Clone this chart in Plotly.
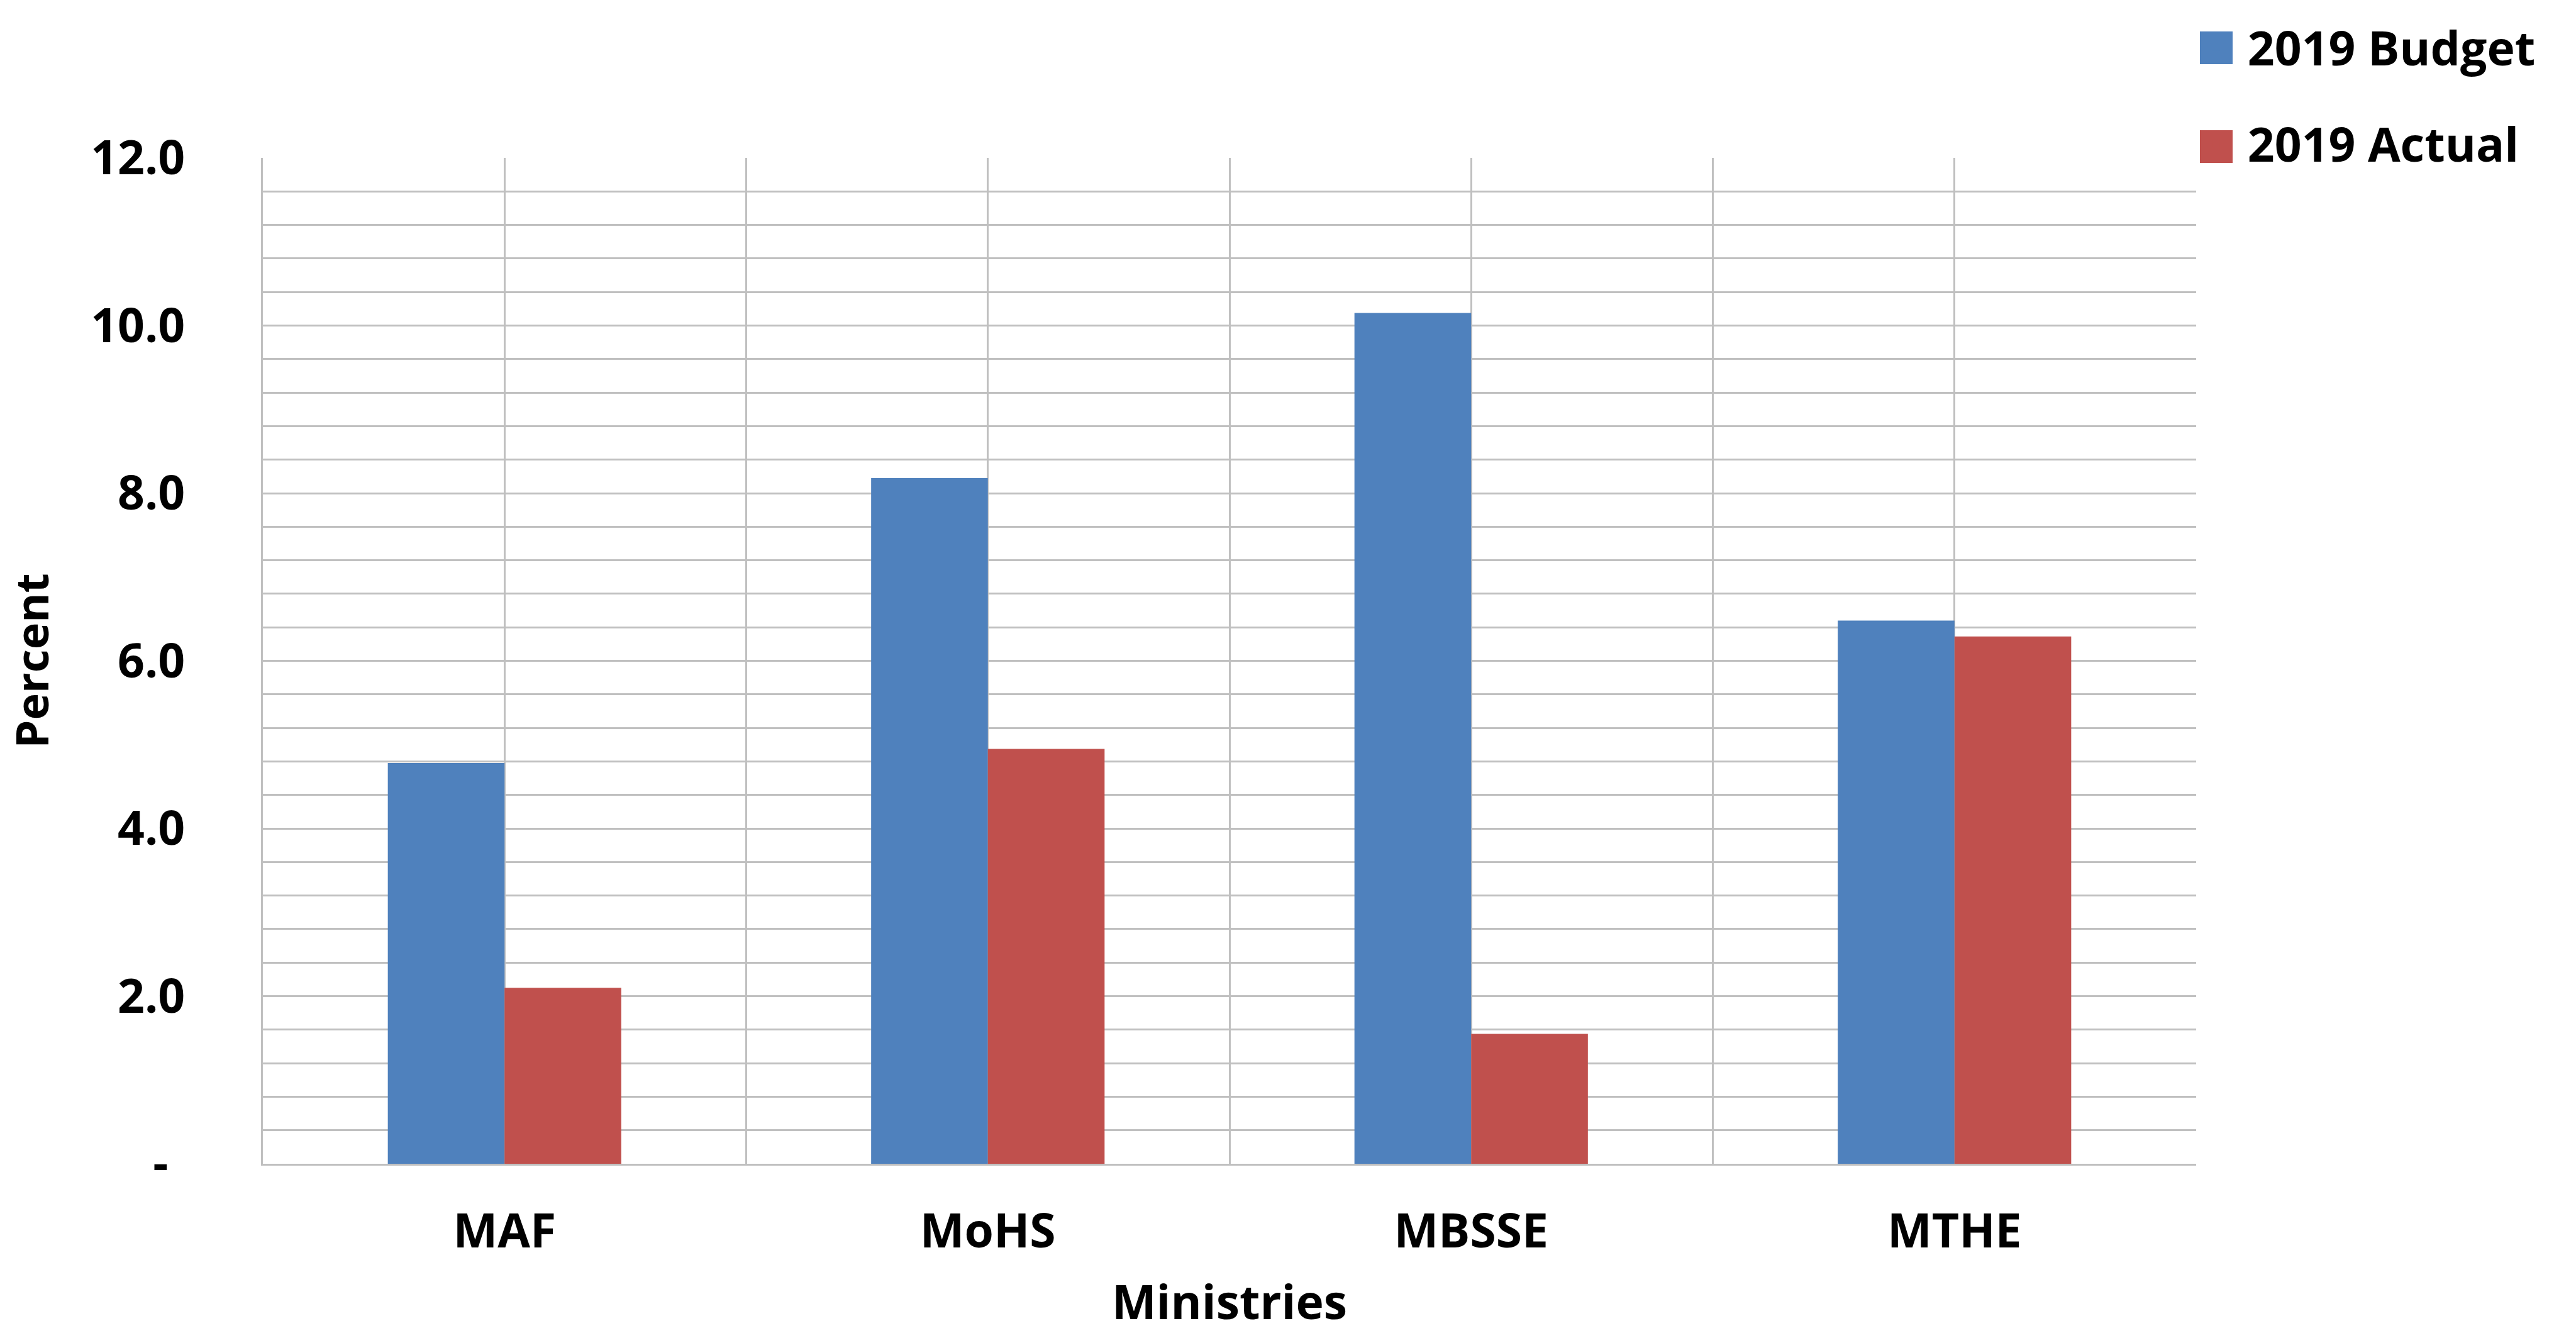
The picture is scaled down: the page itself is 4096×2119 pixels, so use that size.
import plotly.graph_objects as go

categories = ["MAF", "MoHS", "MBSSE", "MTHE"]
budget_2019 = [4.78, 8.18, 10.15, 6.48]
actual_2019 = [2.10, 4.95, 1.55, 6.29]
y_tick_values = [0, 2, 4, 6, 8, 10, 12]
y_tick_labels = ["-\u00a0\u200a", "2.0", "4.0", "6.0", "8.0", "10.0", "12.0"]
series_names = ["2019 Budget", "2019 Actual"]
series_colors = ["#4F81BD", "#C0504D"]

x_pos = list(range(len(categories)))

FONT = "Open Sans"
GRID = "#c0c0c0"
TXT = dict(family=FONT, size=75, color="black", weight="bold")

fig = go.Figure()
fig.add_trace(go.Bar(x=x_pos, y=budget_2019, name=series_names[0],
                     marker=dict(color=series_colors[0], line=dict(width=0)),
                     legendgroup="a"))
fig.add_trace(go.Bar(x=x_pos, y=actual_2019, name=series_names[1],
                     marker=dict(color=series_colors[1], line=dict(width=0)),
                     legendgroup="b"))

# enlarged legend keys (same colour, sit under the legend's own small keys)
key_rows = [(149, 201), (-8, 44)]
for (y0, y1), col in zip(key_rows, series_colors):
    fig.add_shape(type="rect", xref="paper", yref="paper",
                  xsizemode="pixel", ysizemode="pixel",
                  xanchor=1, yanchor=1, x0=6, x1=58, y0=y0, y1=y1,
                  fillcolor=col, line=dict(width=0), layer="above")

fig.update_layout(
    width=4096, height=2119,
    margin=dict(l=418, r=604, t=251, b=267),
    paper_bgcolor="white", plot_bgcolor="white",
    barmode="group", bargap=0.517, bargroupgap=0,
    font=TXT,
    showlegend=True,
    legend=dict(x=0.9941, xanchor="left", y=1.145, yanchor="top",
                itemwidth=90,
                font=TXT, tracegroupgap=53, bgcolor="rgba(0,0,0,0)"),
    xaxis=dict(
        range=[-0.5, len(categories) - 0.5],
        tickmode="array", tickvals=x_pos, ticktext=categories,
        showgrid=True, gridcolor=GRID, gridwidth=2.5,
        minor=dict(tick0=0.5, dtick=1, showgrid=True, gridcolor=GRID, gridwidth=2.5),
        showline=True, linecolor=GRID, linewidth=2.5,
        ticks="", zeroline=False,
        tickfont=TXT,
        ticklabelstandoff=40,
        title=dict(text="Ministries", standoff=50, font=TXT),
    ),
    yaxis=dict(
        range=[0, 12],
        tickmode="array", tickvals=y_tick_values, ticktext=y_tick_labels,
        showgrid=True, gridcolor=GRID, gridwidth=3,
        minor=dict(tick0=0, dtick=0.4, showgrid=True, gridcolor=GRID, gridwidth=3),
        showline=True, linecolor=GRID, linewidth=2.5,
        ticks="", zeroline=False,
        tickfont=TXT,
        ticklabelstandoff=106,
        title=dict(text="Percent", standoff=50,
                   font=dict(family=FONT, size=72, color="black", weight="bold")),
    ),
)

fig.write_html("out.html")
